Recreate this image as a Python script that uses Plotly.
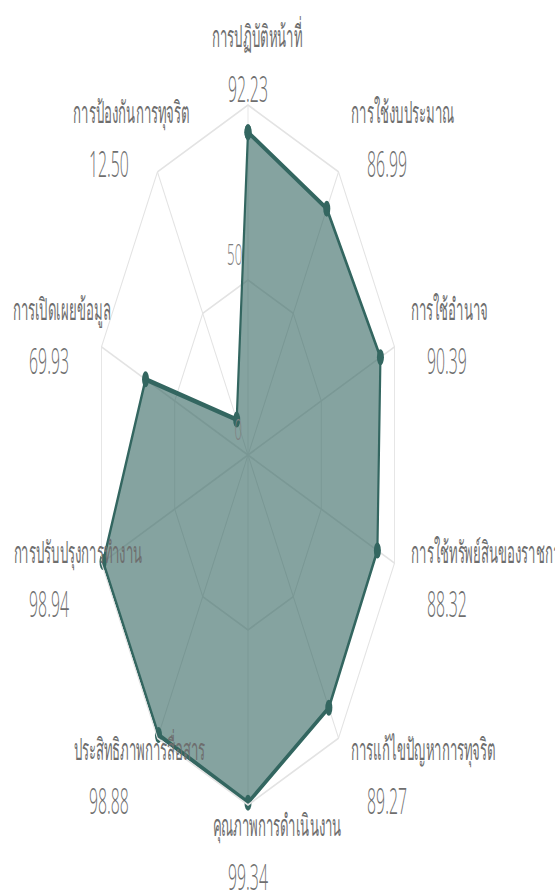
import numpy as np
import plotly.graph_objects as go

# ---- data ----
categories = [
    "การปฏิบัติหน้าที่",
    "การใช้งบประมาณ",
    "การใช้อำนาจ",
    "การใช้ทรัพย์สินของราชการ",
    "การแก้ไขปัญหาการทุจริต",
    "คุณภาพการดำเนินงาน",
    "ประสิทธิภาพการสื่อสาร",
    "การปรับปรุงการทำงาน",
    "การเปิดเผยข้อมูล",
    "การป้องกันการทุจริต",
]
values = [92.23, 86.99, 90.39, 88.32, 89.27, 99.34, 98.88, 98.94, 69.93, 12.50]
radial_ticks = [0, 50]
radial_max = 100

# ---- geometry (the reference is a horizontally squeezed radar) ----
W_REF, H = 555, 893
SQ = 0.44                       # horizontal squeeze factor
W = int(round(W_REF / SQ))      # wide canvas, squeezed back by CSS
SQ = W_REF / W
CX_REF, CY = 248, 455           # centre in reference pixels
R = 350                         # radius (px, vertical)
CX = CX_REF / SQ

LINE = "#336660"
FILL = "rgba(51,102,96,0.6)"
GRID = "#e3e3e3"
TXT = "#6e6e6e"
FONT = "Open Sans, Noto Sans, sans-serif"

fig = go.Figure()
fig.add_trace(go.Scatterpolar(
    r=values + [values[0]],
    theta=categories + [categories[0]],
    mode="lines+markers",
    fill="toself",
    fillcolor=FILL,
    line=dict(color=LINE, width=5),
    marker=dict(color=LINE, size=16),
    hoverinfo="skip",
))

fig.update_layout(
    width=W, height=H,
    margin=dict(l=0, r=0, t=0, b=0),
    paper_bgcolor="white",
    showlegend=False,
    font=dict(family=FONT, color=TXT),
    polar=dict(
        domain=dict(x=[(CX - R) / W, (CX + R) / W],
                    y=[(H - CY - R) / H, (H - CY + R) / H]),
        bgcolor="white",
        gridshape="linear",
        angularaxis=dict(type="category", rotation=90, direction="clockwise",
                         showticklabels=False, ticks="", showline=True,
                         linecolor=GRID, linewidth=2, gridcolor=GRID, gridwidth=2,
                         categoryorder="array", categoryarray=categories),
        radialaxis=dict(range=[0, radial_max], tickvals=radial_ticks + [radial_max],
                        showticklabels=False, ticks="", showline=False,
                        gridcolor=GRID, gridwidth=2),
    ),
)

# ---- point labels (name + value) ----
annotations = []
n = len(categories)
for i, (name, v) in enumerate(zip(categories, values)):
    th = np.deg2rad(360.0 * i / n)
    s, c = np.sin(th), np.cos(th)
    sg = 0.0 if abs(s) < 1e-6 else np.sign(s)
    dx_ref = sg * (165 * abs(s) + 42)
    pair_y = CY - 394 * c
    val_x = (CX_REF + dx_ref) / SQ
    name_x = (CX_REF + dx_ref - 37) / SQ
    annotations.append(dict(
        x=name_x / W, y=1 - (pair_y - 25) / H, xref="paper", yref="paper",
        text=name, showarrow=False, xanchor="left", yanchor="middle",
        font=dict(size=30, color=TXT, family=FONT, weight=300)))
    annotations.append(dict(
        x=val_x / W, y=1 - (pair_y + 27) / H, xref="paper", yref="paper",
        text=f"{v:.2f}", showarrow=False, xanchor="center", yanchor="middle",
        font=dict(size=36, color=TXT, family=FONT, weight=300)))

# ---- radial tick labels ----
for t in radial_ticks:
    ty = CY - R * t / radial_max
    annotations.append(dict(
        x=(CX_REF - 5) / SQ / W, y=1 - (ty - 4) / H, xref="paper", yref="paper",
        text=str(t), showarrow=False, xanchor="right", yanchor="bottom",
        font=dict(size=30, color="#808080", family=FONT, weight=300)))

fig.update_layout(annotations=annotations)

post = (
    "document.body.style.margin='0';"
    "document.body.style.overflow='hidden';"
    "var gd=document.getElementById('{plot_id}');"
    "gd.style.transformOrigin='0 0';"
    "gd.style.transform='scaleX(%.5f)';" % SQ
)
fig.write_html("out.html", post_script=post,
               config={"displayModeBar": False})
